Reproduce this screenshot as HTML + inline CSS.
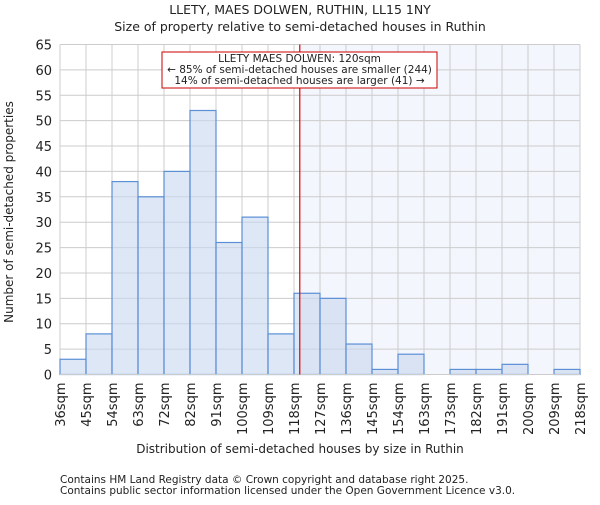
<!DOCTYPE html>
<html><head><meta charset="utf-8"><style>body{margin:0;background:#fff}text{font-family:"DejaVu Sans","Liberation Sans",sans-serif;fill:#222}</style></head>
<body>
<svg id="c" width="600" height="500" xmlns="http://www.w3.org/2000/svg">
<text x="300" y="14" text-anchor="middle" font-size="12.5">LLETY, MAES DOLWEN, RUTHIN, LL15 1NY</text>
<text x="300" y="31" text-anchor="middle" font-size="12.5">Size of property relative to semi-detached houses in Ruthin</text>
<g id="plot"></g>
<text x="300" y="453" text-anchor="middle" font-size="12">Distribution of semi-detached houses by size in Ruthin</text>
<text transform="translate(13,212) rotate(-90)" text-anchor="middle" font-size="12">Number of semi-detached properties</text>
<text x="60" y="483" font-size="10.5" fill="#444">Contains HM Land Registry data © Crown copyright and database right 2025.</text>
<text x="60" y="494" font-size="10.5" fill="#444">Contains public sector information licensed under the Open Government Licence v3.0.</text>
</svg>
<script>
const categories=["36sqm","45sqm","54sqm","63sqm","72sqm","82sqm","91sqm","100sqm","109sqm","118sqm","127sqm","136sqm","145sqm","154sqm","163sqm","173sqm","182sqm","191sqm","200sqm","209sqm","218sqm"];
const binStarts=[36,45,54,63,72,82,91,100,109,118,127,136,145,154,163,173,182,191,200,209,218];
const counts=[3,8,38,35,40,52,26,31,8,16,15,6,1,4,0,1,1,2,0,1];
const yTicks=[0,5,10,15,20,25,30,35,40,45,50,55,60,65];
const marker=120;
const NS="http://www.w3.org/2000/svg";
const L=60,R=580,T=44.5,B=374.5,ymax=65;
const bw=(R-L)/counts.length;
const y=v=>B-(v/ymax)*(B-T);
const xi=i=>L+i*bw;
function xv(v){let i=0;while(i<binStarts.length-2&&v>=binStarts[i+1])i++;return xi(i)+(v-binStarts[i])/(binStarts[i+1]-binStarts[i])*bw;}
const g=document.getElementById('plot');
function mk(t,a,p){const e=document.createElementNS(NS,t);for(const k in a)e.setAttribute(k,a[k]);(p||g).appendChild(e);return e;}
const mx=xv(marker);
const sh=mk('rect',{x:mx,y:T,width:R-mx,height:B-T,fill:'#f3f6fd'});


yTicks.forEach(t=>{const l=mk('line',{x1:L,x2:R,y1:y(t),y2:y(t),stroke:'#ccc'});


const tx=mk('text',{x:L-8,y:y(t)+5,'text-anchor':'end','font-size':'13'});tx.textContent=t;

});
categories.forEach((c,i)=>{const x=xi(i);const l=mk('line',{x1:x,x2:x,y1:T,y2:B,stroke:'#ccc'});


const tx=mk('text',{transform:`translate(${x+5},${B+8}) rotate(-90)`,'text-anchor':'end','font-size':'13'});tx.textContent=c;

});
counts.forEach((v,i)=>{const r=mk('rect',{x:xi(i),y:y(v),width:bw,height:B-y(v),fill:'rgba(200,215,238,0.6)',stroke:'#5b8fd6','stroke-width':'1.2'});

});
const ax=mk('line',{x1:L,x2:R,y1:B,y2:B,stroke:'#ccc'});


const ml=mk('line',{x1:mx,x2:mx,y1:T,y2:B,stroke:'#d00','stroke-width':'1.2'});


const box=mk('rect',{x:162,y:52,width:275,height:36,fill:'#fff',stroke:'#c00'});


["LLETY MAES DOLWEN: 120sqm","← 85% of semi-detached houses are smaller (244)","14% of semi-detached houses are larger (41) →"].forEach((s,k)=>{const t=mk('text',{x:299.5,y:62+k*11,'text-anchor':'middle','font-size':'10.5'});t.textContent=s;

});
</script>
</body></html>
